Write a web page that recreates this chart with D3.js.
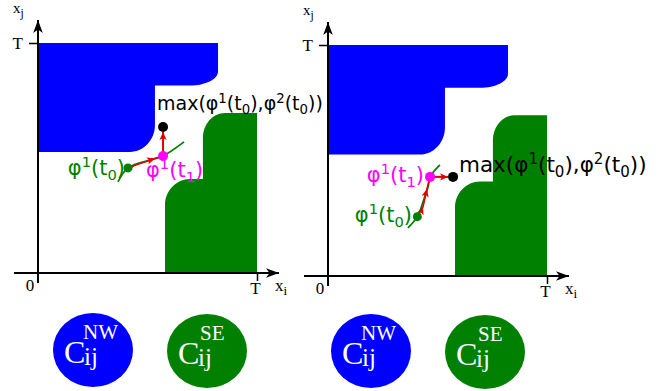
<!DOCTYPE html>
<html>
<head>
<meta charset="utf-8">
<script src="https://cdn.jsdelivr.net/npm/d3@7"></script>
<style>
  body { margin: 0; background: #fff; }
  svg { display: block; }
</style>
</head>
<body>
<svg id="chart" width="664" height="391"></svg>
<script>
// regions in state space (T = 1); each vertex: [xi, xj, cornerRx, cornerRy]
const blueRegion = [
  [0, 1, 0, 0], [0.822, 1, 0, 0], [0.822, 0.815, 0.128, 0.061],
  [0.534, 0.815, 0, 0], [0.534, 0.526, 0.114, 0.117], [0, 0.526, 0, 0]
];
const greenRegion = [
  [0.58, 0, 0, 0], [0.58, 0.409, 0.114, 0.113], [0.753, 0.409, 0, 0],
  [0.753, 0.696, 0.1, 0.109], [1, 0.696, 0, 0], [1, 0, 0, 0]
];

// left panel trajectory
const leftCurve = [[0.365, 0.396], [0.411, 0.457], [0.511, 0.491], [0.571, 0.509], [0.667, 0.570]];
const leftRed = [[0.411, 0.457], [0.443, 0.468], [0.534, 0.498], [0.571, 0.509]];
const leftPhi0 = [0.411, 0.457];
const leftPhi1 = [0.571, 0.509];
const leftMax = [0.571, 0.635];

// right panel trajectory
const rightCurve = [[0.365, 0.208], [0.408, 0.257], [0.434, 0.320], [0.447, 0.359], [0.457, 0.385], [0.466, 0.429], [0.511, 0.481]];
const rightRed = [[0.408, 0.257], [0.434, 0.300], [0.452, 0.377], [0.466, 0.429]];
const rightPhi0 = [0.408, 0.257];
const rightPhi1 = [0.466, 0.429];
const rightMax = [0.571, 0.429];

const tickValues = [1];
const tickLabels = ["T"];

const blue = "#0000ff", green = "#008000", magenta = "#ff00ff", red = "#e00000";

const svg = d3.select("#chart");
const defs = svg.append("defs");

defs.append("marker")
  .attr("id", "axisArrow")
  .attr("viewBox", "-13 -6 14 12")
  .attr("markerUnits", "userSpaceOnUse")
  .attr("markerWidth", 14).attr("markerHeight", 12)
  .attr("refX", 0).attr("refY", 0)
  .attr("orient", "auto")
  .append("path")
  .attr("d", "M0,0 L-13,-4.8 L-9.5,0 L-13,4.8 Z")
  .attr("fill", "#000");

defs.append("marker")
  .attr("id", "redArrow")
  .attr("viewBox", "-8 -4 9 8")
  .attr("markerUnits", "userSpaceOnUse")
  .attr("markerWidth", 9).attr("markerHeight", 8)
  .attr("refX", 0).attr("refY", 0)
  .attr("orient", "auto")
  .append("path")
  .attr("d", "M0,0 L-8,-3.6 L-6,0 L-8,3.6 Z")
  .attr("fill", red);

function toward(X, Y, PX, PY, rxp, ryp) {
  if (Math.abs(PX - X) > Math.abs(PY - Y)) return [X + Math.sign(PX - X) * rxp, Y];
  return [X, Y + Math.sign(PY - Y) * ryp];
}

function regionPath(pts, x, y) {
  const p = d3.path();
  const n = pts.length;
  pts.forEach((v, i) => {
    const [vx, vy, rx, ry] = v;
    const X = x(vx), Y = y(vy);
    if (!rx) {
      if (i) p.lineTo(X, Y); else p.moveTo(X, Y);
      return;
    }
    const prev = pts[(i - 1 + n) % n], next = pts[(i + 1) % n];
    const rxp = x(rx) - x(0), ryp = y(0) - y(ry);
    const a = toward(X, Y, x(prev[0]), y(prev[1]), rxp, ryp);
    const b = toward(X, Y, x(next[0]), y(next[1]), rxp, ryp);
    if (i) p.lineTo(a[0], a[1]); else p.moveTo(a[0], a[1]);
    const k = 0.55;
    p.bezierCurveTo(a[0] + (X - a[0]) * k, a[1] + (Y - a[1]) * k,
                    b[0] + (X - b[0]) * k, b[1] + (Y - b[1]) * k,
                    b[0], b[1]);
  });
  p.closePath();
  return p.toString();
}

function label(g, x, y, color, size, anchor) {
  return g.append("text")
    .attr("x", x).attr("y", y)
    .attr("fill", color)
    .attr("font-family", "DejaVu Sans")
    .attr("font-size", size)
    .attr("text-anchor", anchor || "start");
}

// appends φ^sup(t_sub)
function addPhi(t, sup, sub, size) {
  t.append("tspan").text("φ");
  t.append("tspan").attr("font-size", size * 0.7).attr("dy", -size * 0.38).text(sup);
  t.append("tspan").attr("dy", size * 0.38).text("(t");
  t.append("tspan").attr("font-size", size * 0.7).attr("dy", size * 0.22).text(sub);
  t.append("tspan").attr("dy", -size * 0.22).text(")");
}

function drawPanel(cfg) {
  const x = d3.scaleLinear().domain([0, 1]).range(cfg.xRange);
  const y = d3.scaleLinear().domain([0, 1]).range(cfg.yRange);
  const g = svg.append("g");

  g.append("path").attr("d", regionPath(blueRegion, x, y)).attr("fill", blue);
  g.append("path").attr("d", regionPath(greenRegion, x, y)).attr("fill", green);

  // axis lines with arrows
  g.append("line")
    .attr("x1", x(0)).attr("y1", y(0) + 10)
    .attr("x2", x(0)).attr("y2", y(1) - 23)
    .attr("stroke", "#000").attr("stroke-width", 2)
    .attr("marker-end", "url(#axisArrow)");
  g.append("line")
    .attr("x1", x(0) - 24).attr("y1", y(0))
    .attr("x2", x(1) + 22).attr("y2", y(0))
    .attr("stroke", "#000").attr("stroke-width", 2)
    .attr("marker-end", "url(#axisArrow)");

  const fmt = (d, i) => tickLabels[i];
  const ax = g.append("g")
    .attr("transform", `translate(0,${y(0)})`)
    .call(d3.axisBottom(x).tickValues(tickValues).tickFormat(fmt).tickSize(8).tickSizeOuter(0).tickPadding(1));
  const ay = g.append("g")
    .attr("transform", `translate(${x(0)},0)`)
    .call(d3.axisLeft(y).tickValues(tickValues).tickFormat(fmt).tickSize(9).tickSizeOuter(0).tickPadding(6));
  [ax, ay].forEach(a => {
    a.select(".domain").remove();
    a.selectAll("line").attr("stroke", "#000").attr("stroke-width", 1.5);
    a.selectAll("text").attr("fill", "#000")
      .attr("font-family", "Liberation Serif").attr("font-size", 17);
  });
  ax.select("text").attr("dx", -2);

  const serif = (tx, ty, main, sub, size) => {
    const t = g.append("text").attr("x", tx).attr("y", ty)
      .attr("font-family", "Liberation Serif").attr("font-size", size).attr("fill", "#000");
    t.append("tspan").text(main);
    t.append("tspan").attr("dy", 4).attr("font-size", size * 0.78).text(sub);
  };
  g.append("text").attr("x", x(0) - 8).attr("y", y(0) + 18)
    .attr("text-anchor", "middle")
    .attr("font-family", "Liberation Serif").attr("font-size", 17).text("0");
  serif(x(1) + 18, y(0) + 18, "x", "i", 17);
  serif(x(0) - 25, y(1) - 30, "x", "j", 15);

  // trajectory curve
  const line = d3.line().x(d => x(d[0])).y(d => y(d[1]));
  g.append("path")
    .attr("d", line.curve(d3.curveCatmullRom)(cfg.curve))
    .attr("fill", "none").attr("stroke", green).attr("stroke-width", 1.8);

  // red arrows
  g.append("path")
    .attr("d", d3.line().x(d => x(d[0])).y(d => y(d[1]))(cfg.red))
    .attr("fill", "none").attr("stroke", red).attr("stroke-width", 1.6)
    .attr("marker-mid", "url(#redArrow)");

  const p1 = [x(cfg.phi1[0]), y(cfg.phi1[1])];
  const pm = [x(cfg.max[0]), y(cfg.max[1])];
  const len = Math.hypot(pm[0] - p1[0], pm[1] - p1[1]);
  const ux = (pm[0] - p1[0]) / len, uy = (pm[1] - p1[1]) / len;
  g.append("line")
    .attr("x1", p1[0]).attr("y1", p1[1])
    .attr("x2", pm[0] - ux * 5).attr("y2", pm[1] - uy * 5)
    .attr("stroke", red).attr("stroke-width", 2)
    .attr("marker-end", "url(#redArrow)");

  // points
  g.append("circle").attr("cx", x(cfg.phi0[0])).attr("cy", y(cfg.phi0[1])).attr("r", 4.5).attr("fill", green);
  g.append("circle").attr("cx", p1[0]).attr("cy", p1[1]).attr("r", 5).attr("fill", magenta);
  g.append("circle").attr("cx", pm[0]).attr("cy", pm[1]).attr("r", 5).attr("fill", "#000");

  // labels
  addPhi(label(g, cfg.l0[0], cfg.l0[1], green, 21, "end"), "1", "0", 21);
  addPhi(label(g, cfg.l1[0], cfg.l1[1], magenta, 21, cfg.l1[2]), "1", "1", 21);
  const lm = label(g, cfg.lm[0], cfg.lm[1], "#000", cfg.lmSize, "start");
  lm.append("tspan").text("max(");
  addPhi(lm, "1", "0", cfg.lmSize);
  lm.append("tspan").text(",");
  addPhi(lm, "2", "0", cfg.lmSize);
  lm.append("tspan").text(")");
}

drawPanel({
  xRange: [38, 257], yRange: [273, 43],
  curve: leftCurve, red: leftRed, phi0: leftPhi0, phi1: leftPhi1, max: leftMax,
  l0: [125, 175], l1: [146, 177, "start"], lm: [157, 110], lmSize: 19
});
drawPanel({
  xRange: [328, 547], yRange: [276, 45],
  curve: rightCurve, red: rightRed, phi0: rightPhi0, phi1: rightPhi1, max: rightMax,
  l0: [412, 222], l1: [424, 182, "end"], lm: [459, 172], lmSize: 21.5
});

// legend discs
const legendItems = [
  { cx: 93, cy: 350, fill: blue, sup: "NW" },
  { cx: 207, cy: 351, fill: green, sup: "SE" },
  { cx: 371, cy: 351, fill: blue, sup: "NW" },
  { cx: 485, cy: 352, fill: green, sup: "SE" }
];
const lg = svg.append("g").selectAll("g").data(legendItems).join("g")
  .attr("transform", d => `translate(${d.cx},${d.cy})`);
lg.append("ellipse").attr("rx", 40).attr("ry", 37).attr("fill", d => d.fill);
const lt = lg.append("text")
  .attr("font-family", "Liberation Serif").attr("fill", "#fff");
lt.append("tspan").attr("x", -29).attr("y", 13).attr("font-size", 32).text("C");
lt.append("tspan").attr("x", -9).attr("y", 15).attr("font-size", 25).text("ij");
lt.append("tspan").attr("x", d => d.sup === "NW" ? -10 : -7).attr("y", -11).attr("font-size", 21).text(d => d.sup);
</script>
</body>
</html>
